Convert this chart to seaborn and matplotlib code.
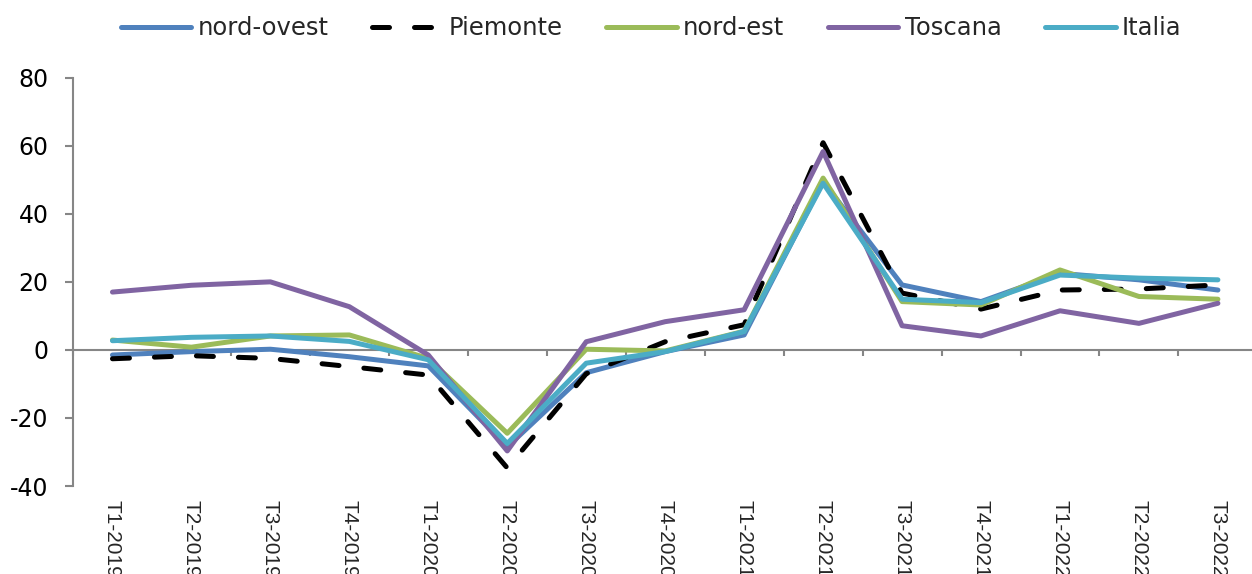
import numpy as np
import pandas as pd
import matplotlib
matplotlib.use("Agg")
import matplotlib.pyplot as plt
import seaborn as sns

# Quarterly values (%), by area
periods = ["T1-2019", "T2-2019", "T3-2019", "T4-2019", "T1-2020", "T2-2020",
           "T3-2020", "T4-2020", "T1-2021", "T2-2021", "T3-2021", "T4-2021",
           "T1-2022", "T2-2022", "T3-2022"]

nord_ovest = [-1.5, -0.5, 0.2, -2.0, -4.7, -28.5, -6.7, -0.5, 4.4, 49.5, 19.1, 14.2, 22.5, 20.6, 17.6]
piemonte = [-2.6, -1.7, -2.5, -4.9, -7.4, -34.7, -7.0, 2.4, 7.4, 60.9, 16.7, 12.0, 17.6, 17.9, 19.1]
nord_est = [2.9, 0.8, 4.1, 4.4, -2.5, -24.5, 0.2, -0.3, 5.5, 50.5, 14.2, 13.2, 23.5, 15.7, 14.9]
toscana = [17.0, 19.0, 20.0, 12.7, -1.5, -29.7, 2.4, 8.3, 11.8, 58.3, 7.1, 4.1, 11.5, 7.8, 13.7]
italia = [2.7, 3.7, 4.1, 2.5, -2.9, -27.5, -3.9, -0.5, 5.4, 49.0, 14.9, 13.9, 22.0, 21.1, 20.6]

series_names = ["nord-ovest", "Piemonte", "nord-est", "Toscana", "Italia"]
series_values = [nord_ovest, piemonte, nord_est, toscana, italia]
y_ticks = [-40, -20, 0, 20, 40, 60, 80]

colors = {"nord-ovest": "#4F81BD", "Piemonte": "#000000", "nord-est": "#9BBB59",
          "Toscana": "#8064A2", "Italia": "#4BACC6"}
dashes = {"nord-ovest": "", "Piemonte": (3.4, 5.0), "nord-est": "",
          "Toscana": "", "Italia": ""}

df = pd.DataFrame({
    "periodo": periods * len(series_names),
    "valore": np.concatenate(series_values),
    "serie": np.repeat(series_names, len(periods)),
})

sns.set_style("white")
plt.rcParams["font.family"] = ["DejaVu Sans"]

fig = plt.figure(figsize=(12.52, 5.74), dpi=100, facecolor="white")
ax = fig.add_axes([0.0583, 0.1533, 0.946, 0.7113])

sns.lineplot(data=df, x="periodo", y="valore", hue="serie", style="serie",
             hue_order=series_names, style_order=series_names,
             palette=colors, dashes=dashes, sort=False, linewidth=3.6,
             legend=False, ax=ax)

for line in ax.lines:
    line.set_dash_capstyle("round")
    line.set_solid_capstyle("round")
    line.set_solid_joinstyle("round")
    line.set_dash_joinstyle("round")

grey = "#868686"
n = len(periods)
ax.set_xlim(-0.5, n - 0.5)
ax.set_ylim(-40, 80)
ax.set_yticks(y_ticks)
ax.set_yticklabels([str(v) for v in y_ticks], fontsize=17, color="#000000")
ax.set_xticks(range(n))
ax.set_xticklabels(periods, rotation=270, fontsize=15, family="Liberation Sans")
ax.tick_params(axis="x", length=0, pad=10)
ax.tick_params(axis="y", direction="out", length=6, width=1.5, color=grey, pad=11.5, left=True)
for side in ["top", "right", "bottom"]:
    ax.spines[side].set_visible(False)
ax.spines["left"].set_color(grey)
ax.spines["left"].set_linewidth(1.5)
ax.set_xlabel("")
ax.set_ylabel("")

# zero axis line with category-boundary tick marks
ax2 = ax.twiny()
ax2.set_xlim(ax.get_xlim())
ax2.xaxis.set_ticks_position("bottom")
ax2.set_xticks(np.arange(n + 1) - 0.5)
ax2.tick_params(axis="x", direction="out", length=4, width=1.5, color=grey,
                labelbottom=False, labeltop=False, top=False)
for side in ["top", "right", "left"]:
    ax2.spines[side].set_visible(False)
ax2.spines["bottom"].set_position(("data", 0))
ax2.spines["bottom"].set_color(grey)
ax2.spines["bottom"].set_linewidth(1.5)
ax2.set_zorder(1)
ax.set_zorder(2)
ax.patch.set_visible(False)

leg = ax.legend(handles=ax.lines[:len(series_names)], labels=series_names,
                loc="center", bbox_to_anchor=(0.52, 0.951),
                bbox_transform=fig.transFigure, ncol=5, frameon=False,
                fontsize=17.5, handlelength=2.9, handletextpad=0.25,
                columnspacing=1.8)

fig.savefig("out.png", dpi=100, facecolor="white")
